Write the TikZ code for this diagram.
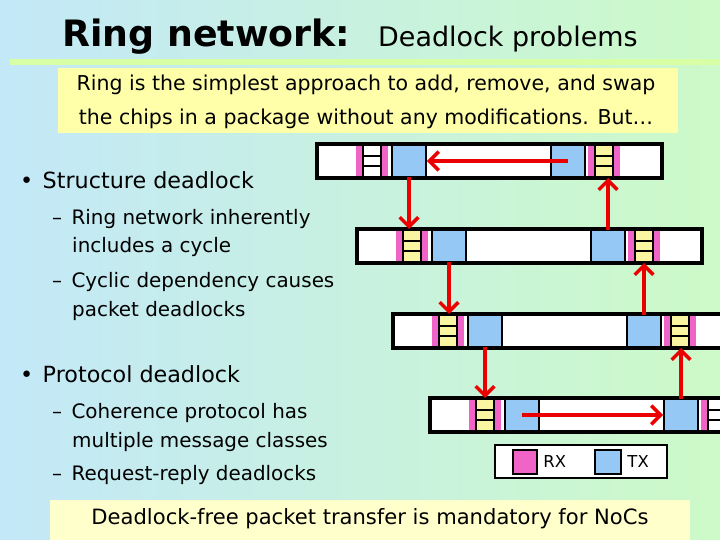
\documentclass[tikz,border=0pt]{standalone}
\usepackage{fontspec}
\setmainfont{DejaVu Sans}
\usetikzlibrary{arrows.meta,positioning}
\definecolor{rxpink}{RGB}{240,100,200}
\definecolor{txblue}{RGB}{150,200,245}
\definecolor{bufyellow}{RGB}{250,245,160}
\definecolor{notebox}{RGB}{255,255,170}
\definecolor{arrowred}{RGB}{235,0,0}
\tikzset{
  bar/.style={draw, line width=2.6pt, fill=white},
  tx/.style={draw, line width=1.4pt, fill=txblue, minimum width=34*0.03cm, minimum height=31*0.03cm, inner sep=0pt},
  rx/.style={fill=rxpink, minimum width=34*0.03cm, minimum height=31*0.03cm, inner sep=0pt},
  dep/.style={-{Straight Barb[length=8pt,width=16pt]}, line width=3pt, draw=arrowred},
  txt/.style={inner sep=0pt, anchor=base west},
}
\begin{document}
\begin{tikzpicture}[x=0.03cm, y=-0.03cm]
	\useasboundingbox (0,0) rectangle (720,540);
	\shade[left color={rgb,255:red,195;green,232;blue,248}, right color={rgb,255:red,205;green,250;blue,200}] (0,0) rectangle (720,540);
	\fill[green!25!lime!35] (10,59) rectangle (720,65);

	% title and note
	\node[txt] (title) at (62,47) {\fontsize{31}{31}\selectfont\bfseries Ring network:};
	\node[txt] (subtitle) at (378,47) {\fontsize{23}{23}\selectfont Deadlock problems};
	\fill[notebox] (58,68) rectangle (678,133);
	\node[align=center, inner sep=0pt, font=\fontsize{17.5}{29}\selectfont] (note) at (366,102) {Ring is the simplest approach to add, remove, and swap\\ the chips in a package without any modifications. But…};

	% bullets
	\node[txt] (b1) at (20,189) {\fontsize{19}{19}\selectfont •\hspace{8pt}Structure deadlock};
	\node[txt] (s1) at (52,225) {\fontsize{17}{17}\selectfont –\hspace{8pt}Ring network inherently};
	\node[txt] (s1b) at (72,253) {\fontsize{17}{17}\selectfont includes a cycle};
	\node[txt] (s2) at (52,288) {\fontsize{17}{17}\selectfont –\hspace{8pt}Cyclic dependency causes};
	\node[txt] (s2b) at (72,317) {\fontsize{17}{17}\selectfont packet deadlocks};
	\node[txt] (b2) at (20,382) {\fontsize{19}{19}\selectfont •\hspace{8pt}Protocol deadlock};
	\node[txt] (s3) at (52,418) {\fontsize{17}{17}\selectfont –\hspace{8pt}Coherence protocol has};
	\node[txt] (s3b) at (72,447) {\fontsize{17}{17}\selectfont multiple message classes};
	\node[txt] (s4) at (52,480) {\fontsize{17}{17}\selectfont –\hspace{8pt}Request-reply deadlocks};

	% ring bars: left edge, top, fill of left and right buffer
	\foreach \i/\l/\t/\fa/\fb in {1/317/144/white/bufyellow, 2/357/229/bufyellow/bufyellow, 3/393/314/bufyellow/bufyellow, 4/430/398/bufyellow/white} {
		\draw[bar] (\l,\t) rectangle (\l+345,\t+34);
		% left buffer
		\fill[rxpink] (\l+39,\t+2) rectangle (\l+71,\t+32);
		\fill[\fa] (\l+46,\t+2) rectangle (\l+64,\t+32);
		\draw[line width=1.2pt] (\l+46,\t+2) -- (\l+46,\t+32) (\l+64,\t+2) -- (\l+64,\t+32)
			(\l+46,\t+12) -- (\l+64,\t+12) (\l+46,\t+22) -- (\l+64,\t+22);
		\coordinate (rxA\i) at (\l+55,\t);
		\node[tx] (txA\i) at (\l+92,\t+17) {};
		\node[tx] (txB\i) at (\l+251,\t+17) {};
		% right buffer
		\fill[rxpink] (\l+271,\t+2) rectangle (\l+303,\t+32);
		\fill[\fb] (\l+278,\t+2) rectangle (\l+296,\t+32);
		\draw[line width=1.2pt] (\l+278,\t+2) -- (\l+278,\t+32) (\l+296,\t+2) -- (\l+296,\t+32)
			(\l+278,\t+12) -- (\l+296,\t+12) (\l+278,\t+22) -- (\l+296,\t+22);
		\coordinate (rxB\i) at (\l+287,\t+34);
	}

	% dependencies
	\foreach \i/\j in {1/2, 2/3, 3/4} {
		\draw[dep] (txA\i.south) -- (txA\i.south |- rxA\j);
		\draw[dep] (txB\j.north) -- (txB\j.north |- rxB\i);
	}
	\draw[dep] (txB1.center) -- (txA1.east);
	\draw[dep] (txA4.center) -- (txB4.west);

	% legend
	\draw[line width=1.4pt, fill=white] (495,445) rectangle (667,478);
	\node[rx, draw, line width=2pt, minimum width=24*0.03cm, minimum height=24*0.03cm] (rxkey) at (525,462) {};
	\node[right=1pt of rxkey] (rxlabel) {\fontsize{14}{14}\selectfont RX};
	\node[tx, line width=2pt, minimum width=26*0.03cm, minimum height=24*0.03cm] (txkey) at (608,462) {};
	\node[right=1pt of txkey] (txlabel) {\fontsize{14}{14}\selectfont TX};

	% bottom note
	\fill[notebox!60!white] (50,500) rectangle (690,540);
	\node[inner sep=0pt] (bottom) at (370,519) {\fontsize{18}{18}\selectfont Deadlock-free packet transfer is mandatory for NoCs};
\end{tikzpicture}
\end{document}
